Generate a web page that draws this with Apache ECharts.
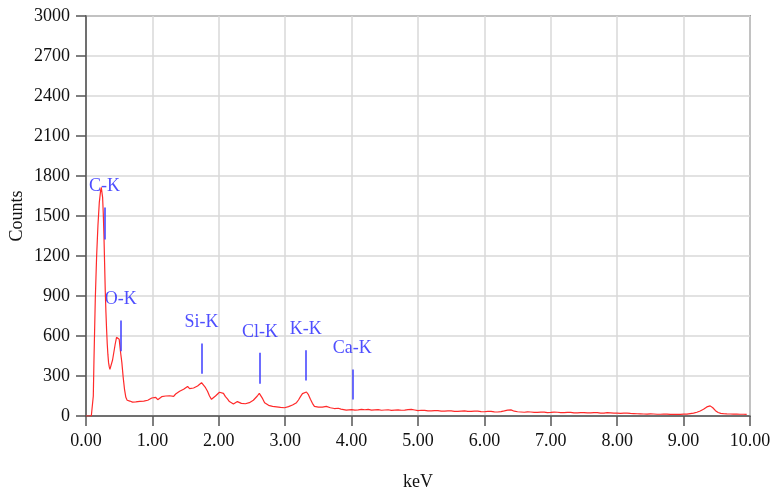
<!DOCTYPE html>
<html><head><meta charset="utf-8">
<script src="https://cdn.jsdelivr.net/npm/echarts@6/dist/echarts.min.js"></script>
<style>html,body{margin:0;padding:0;background:#fff}#c{width:774px;height:492px}</style>
</head><body><div id="c"></div>
<script>
var keV = [0.00,0.04,0.08,0.10,0.11,0.12,0.14,0.16,0.18,0.20,0.22,0.23,0.24,0.25,0.26,0.27,0.28,0.29,0.30,0.31,0.32,0.33,0.34,0.35,0.36,0.37,0.38,0.40,0.42,0.44,0.46,0.47,0.48,0.50,0.52,0.54,0.56,0.58,0.60,0.62,0.64,0.66,0.68,0.70,0.72,0.75,0.78,0.81,0.84,0.87,0.90,0.93,0.96,0.99,1.02,1.05,1.08,1.11,1.14,1.17,1.20,1.23,1.26,1.29,1.32,1.35,1.38,1.41,1.44,1.47,1.50,1.53,1.56,1.59,1.62,1.65,1.68,1.71,1.74,1.77,1.80,1.83,1.86,1.89,1.92,1.95,1.98,2.01,2.04,2.07,2.10,2.13,2.16,2.19,2.22,2.25,2.28,2.31,2.34,2.37,2.40,2.43,2.46,2.49,2.52,2.55,2.58,2.61,2.63,2.66,2.69,2.72,2.75,2.78,2.81,2.84,2.87,2.90,2.93,2.96,2.99,3.02,3.05,3.08,3.11,3.14,3.17,3.20,3.23,3.26,3.29,3.32,3.35,3.38,3.41,3.44,3.47,3.50,3.53,3.56,3.59,3.62,3.65,3.68,3.71,3.74,3.77,3.80,3.84,3.88,3.92,3.96,4.00,4.05,4.10,4.15,4.20,4.25,4.30,4.35,4.40,4.45,4.50,4.55,4.60,4.65,4.70,4.75,4.80,4.85,4.90,4.95,5.00,5.05,5.10,5.15,5.20,5.25,5.30,5.35,5.40,5.45,5.50,5.55,5.60,5.65,5.70,5.75,5.80,5.85,5.90,5.95,6.00,6.05,6.10,6.15,6.20,6.25,6.30,6.35,6.40,6.45,6.50,6.55,6.60,6.65,6.70,6.75,6.80,6.85,6.90,6.95,7.00,7.05,7.10,7.15,7.20,7.25,7.30,7.35,7.40,7.45,7.50,7.55,7.60,7.65,7.70,7.75,7.80,7.85,7.90,7.95,8.00,8.05,8.10,8.15,8.20,8.25,8.30,8.35,8.40,8.45,8.50,8.55,8.60,8.65,8.70,8.75,8.80,8.85,8.90,8.95,9.00,9.05,9.10,9.15,9.20,9.25,9.30,9.35,9.40,9.44,9.48,9.52,9.56,9.60,9.65,9.70,9.75,9.80,9.85,9.90,9.95,10.00];
var counts = [0,0,0,0,150,420,880,1200,1430,1600,1690,1715,1700,1640,1520,1360,1150,940,780,650,540,460,400,370,350,345,360,420,480,540,590,600,590,575,480,400,290,200,140,118,108,112,100,104,98,106,102,110,104,112,108,118,112,135,128,140,122,130,145,138,150,162,152,158,147,165,172,185,178,200,212,222,205,192,210,218,225,235,250,238,212,185,150,125,132,150,165,178,188,170,145,128,108,96,90,100,108,98,95,102,92,96,100,108,118,128,150,170,165,130,100,88,80,76,72,70,68,66,64,60,62,66,70,74,82,92,100,120,145,168,182,180,160,125,95,72,62,66,70,66,74,72,68,62,58,56,54,58,52,48,44,46,48,44,46,50,47,50,44,46,48,43,45,47,42,44,46,43,44,48,50,45,40,43,42,39,38,41,40,37,36,39,38,35,35,37,38,34,34,36,36,33,32,35,34,31,30,33,38,44,46,36,32,30,28,31,30,27,27,29,29,26,27,29,28,25,25,27,27,24,24,26,26,23,23,25,25,22,22,26,24,22,21,20,22,21,19,18,17,16,15,14,16,15,13,13,15,14,12,12,13,12,14,14,18,22,28,38,50,68,76,62,40,26,20,18,16,15,14,14,13,13,12];
var elemNames = ['C-K','O-K','Si-K','Cl-K','K-K','Ca-K'];
var elemKeV = [0.277,0.525,1.74,2.62,3.31,4.01];
var elemTop = [1564,716,544,474,494,349];
var elemBottom = [1324,486,316,241,266,124];
var xTicks = ['0.00','1.00','2.00','3.00','4.00','5.00','6.00','7.00','8.00','9.00','10.00'];

var spectrum = keV.map(function(k,i){return [k,counts[i]];});
var markSegs = elemKeV.map(function(k,i){return [{coord:[k,elemBottom[i]]},{coord:[k,elemTop[i]]}];});
var labelPts = elemKeV.map(function(k,i){return {value:[k,elemTop[i]],name:elemNames[i]};});
var font = 'Liberation Serif';
var chart = echarts.init(document.getElementById('c'));
chart.setOption({
  animation:false,
  grid:{left:86,right:24,top:16,bottom:76,outerBoundsMode:'none',containLabel:false,show:true,borderColor:'#555',borderWidth:1.5,backgroundColor:'transparent'},
  xAxis:{type:'value',min:0,max:10,interval:1,
    name:'keV',nameLocation:'middle',nameGap:57,nameMoveOverlap:false,nameTextStyle:{fontFamily:font,fontSize:18,color:'#111'},
    axisLine:{lineStyle:{color:'#555',width:1.5}},
    axisTick:{show:true,length:10,lineStyle:{color:'#555',width:1.5}},
    axisLabel:{margin:16,fontFamily:font,fontSize:18,color:'#111',formatter:function(v){return xTicks[Math.round(v)];}},
    splitLine:{show:true,lineStyle:{color:'#d9d9d9',width:1.5}}},
  yAxis:{type:'value',min:0,max:3000,interval:300,
    name:'Counts',nameLocation:'middle',nameGap:60,nameMoveOverlap:false,nameTextStyle:{fontFamily:font,fontSize:18,color:'#111'},
    axisLine:{show:true,lineStyle:{color:'#555',width:1.5}},
    axisTick:{show:true,length:10,lineStyle:{color:'#555',width:1.5}},
    axisLabel:{margin:16,fontFamily:font,fontSize:18,color:'#111',formatter:function(v){return String(v);}},
    splitLine:{show:true,lineStyle:{color:'#d9d9d9',width:1.5}}},
  series:[
    {type:'line',data:spectrum,showSymbol:false,lineStyle:{color:'#ff2a2a',width:1.2},
     markLine:{silent:true,symbol:'none',label:{show:false},lineStyle:{color:'#3c3cff',width:1.5,type:'solid'},data:markSegs}},
    {type:'scatter',data:labelPts,symbolSize:0,
     label:{show:true,position:'top',distance:12,formatter:'{b}',fontFamily:font,fontSize:18,color:'#2222ff'}}
  ]
});
</script></body></html>
